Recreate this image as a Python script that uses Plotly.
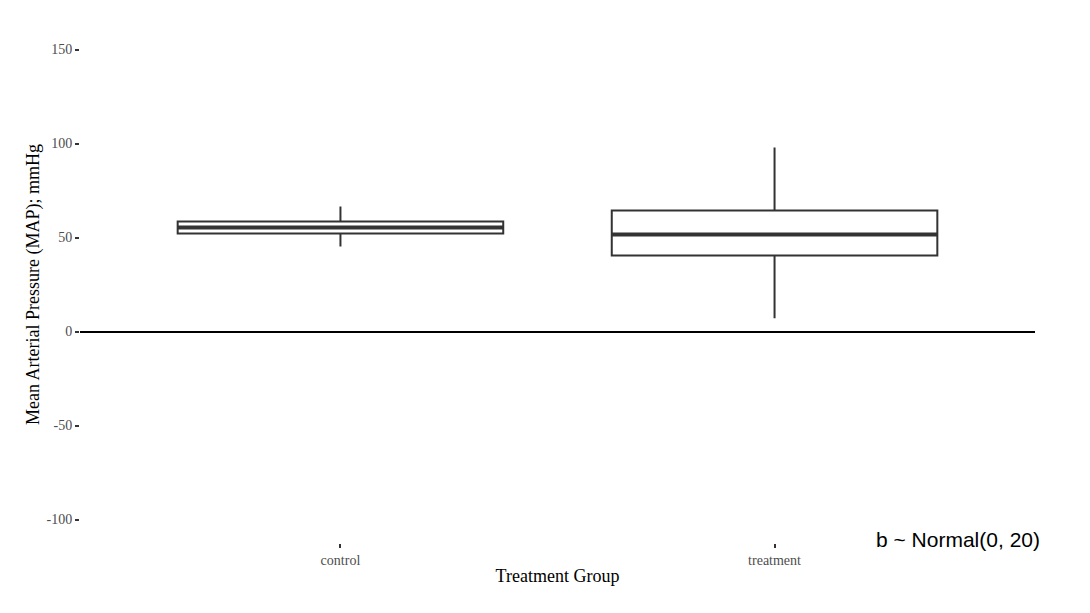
import plotly.graph_objects as go

groups = ["control", "treatment"]
lower_whisker = [45.2, 7.0]
q1_vals = [52.1, 40.4]
medians = [55.3, 51.6]
q3_vals = [58.5, 64.4]
upper_whisker = [66.5, 97.9]
y_ticks = [-100, -50, 0, 50, 100, 150]
y_tick_labels = ["-100", "-50", "0", "50", "100", "150"]
annotation_text = "b ~ Normal(0, 20)"

box_w = 0.75
fig = go.Figure()
fig.add_trace(go.Box(
    x=groups, q1=q1_vals, median=medians, q3=q3_vals,
    lowerfence=lower_whisker, upperfence=upper_whisker,
    boxpoints=False, width=box_w, whiskerwidth=0,
    fillcolor="white", line=dict(color="#333333", width=2),
    showlegend=False, hoverinfo="skip",
))
for i, m in enumerate(medians):
    fig.add_shape(type="line", xref="x", yref="y",
                  x0=i - box_w / 2, x1=i + box_w / 2, y0=m, y1=m,
                  line=dict(color="#333333", width=4))

serif = "Liberation Serif, Times New Roman, serif"
fig.update_layout(
    width=1090, height=613,
    margin=dict(l=80, r=55, t=26, b=70),
    paper_bgcolor="white", plot_bgcolor="white",
    font=dict(family=serif, color="black"),
    xaxis=dict(
        type="category", range=[-0.6, 1.6], showgrid=False, showline=False,
        ticks="outside", ticklen=4, tickwidth=1.5, tickcolor="#333333",
        tickfont=dict(family=serif, size=14, color="#4d4d4d"),
        title=dict(text="Treatment Group", font=dict(family=serif, size=18, color="black"), standoff=2),
    ),
    yaxis=dict(
        range=[-112.5, 162.5], showgrid=False, showline=False,
        tickvals=y_ticks, ticktext=y_tick_labels,
        ticks="outside", ticklen=4, tickwidth=1.5, tickcolor="#333333",
        tickfont=dict(family=serif, size=14, color="#4d4d4d"),
        zeroline=True, zerolinecolor="black", zerolinewidth=2,
        title=dict(text="Mean Arterial Pressure (MAP); mmHg", font=dict(family=serif, size=18, color="black"), standoff=2),
    ),
    annotations=[dict(
        text=annotation_text, xref="paper", yref="paper",
        x=1.0073, y=0.006, xanchor="right", yanchor="middle", showarrow=False,
        font=dict(family="Liberation Sans, Arial, sans-serif", size=21, color="black"),
    )],
)
fig.write_html("out.html")
